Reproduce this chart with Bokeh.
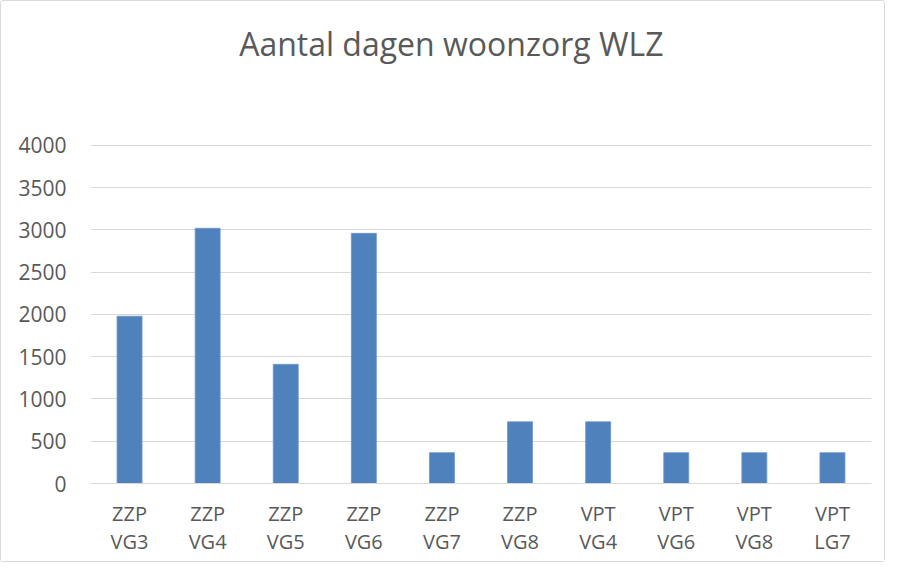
from bokeh.plotting import figure
from bokeh.models import (FixedTicker, ColumnDataSource, CategoricalAxis,
                          Range1d, CustomJSTickFormatter)
from bokeh.core.properties import value
from bokeh.embed import file_html
from bokeh.resources import INLINE

categories = ["ZZP VG3", "ZZP VG4", "ZZP VG5", "ZZP VG6", "ZZP VG7",
              "ZZP VG8", "VPT VG4", "VPT VG6", "VPT VG8", "VPT LG7"]
values = [1980, 3020, 1410, 2960, 365, 730, 730, 365, 365, 365]
y_ticks = [0, 500, 1000, 1500, 2000, 2500, 3000, 3500, 4000]
title_text = "Aantal dagen woonzorg WLZ"

FONT = "Open Sans"
GREY = "#595959"
GRID = "#d9d9d9"

source = ColumnDataSource(data=dict(cat=categories, val=values))

# frame spans the full top; the ticker keeps grid lines at 0..4000 only
p = figure(x_range=categories, y_range=Range1d(0, 5704), width=885, height=562,
           output_backend="svg", toolbar_location=None,
           min_border_left=89, min_border_right=15,
           min_border_top=0, min_border_bottom=80)
p.x_range.range_padding = 0
p.styles = {"border": "1px solid #d9d9d9", "border-radius": "3px"}

p.vbar(x="cat", top="val", width=0.32, source=source,
       fill_color="#4F81BD", line_color="#6b97cc", line_width=0.8)

p.text(x=[4.62], y=[5207], text=[title_text], text_font=value(FONT),
       text_font_size="32px", text_color=GREY, text_align="center",
       text_baseline="alphabetic")

p.outline_line_color = None
p.background_fill_color = "white"
p.border_fill_color = "white"

p.xgrid.grid_line_color = None
p.ygrid.grid_line_color = GRID
p.ygrid.grid_line_width = 1.2
p.yaxis.ticker = FixedTicker(ticks=y_ticks)

p.yaxis.axis_line_color = None
p.yaxis.major_tick_line_color = None
p.yaxis.minor_tick_line_color = None
p.yaxis.major_label_standoff = 18
p.yaxis.major_label_text_font = FONT
p.yaxis.major_label_text_font_size = "21px"
p.yaxis.major_label_text_color = GREY


def style_x(ax, standoff):
    ax.major_tick_line_color = None
    ax.minor_tick_line_color = None
    ax.major_label_standoff = standoff
    ax.major_label_text_font = FONT
    ax.major_label_text_font_size = "20px"
    ax.major_label_text_color = GREY


xa = p.xaxis[0]
style_x(xa, 10)
xa.axis_line_color = GRID
xa.axis_line_width = 1.2
xa.formatter = CustomJSTickFormatter(code="return String(tick).split(' ')[0];")

xb = CategoricalAxis()
style_x(xb, -8)
xb.axis_line_color = None
xb.formatter = CustomJSTickFormatter(code="return String(tick).split(' ')[1];")
p.add_layout(xb, "below")

open("out.html", "w").write(file_html(p, INLINE))
